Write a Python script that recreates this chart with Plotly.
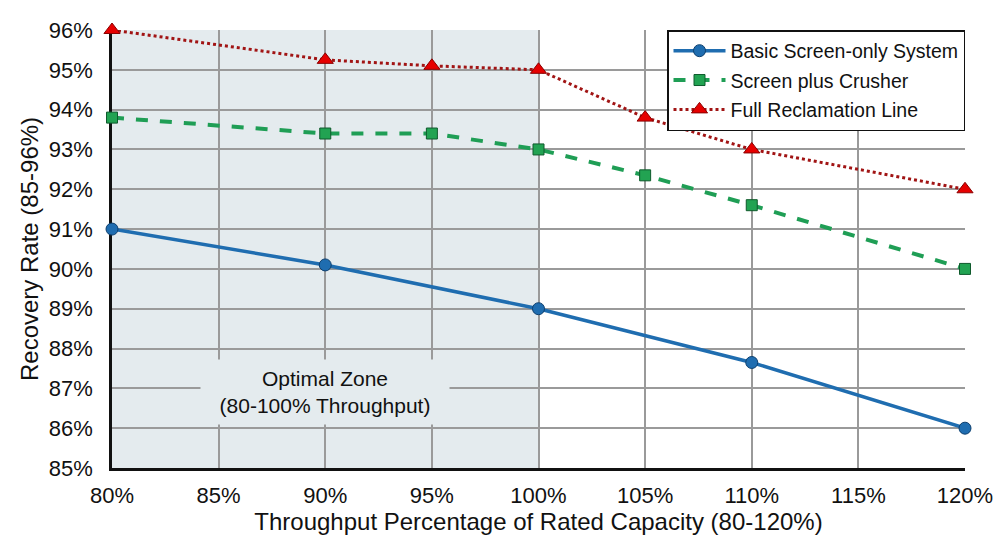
import plotly.graph_objects as go

x_basic = [80, 90, 100, 110, 120]
y_basic = [91.0, 90.1, 89.0, 87.65, 86.0]

x_crusher = [80, 90, 95, 100, 105, 110, 120]
y_crusher = [93.8, 93.4, 93.4, 93.0, 92.35, 91.6, 90.0]

x_full = [80, 90, 95, 100, 105, 110, 120]
y_full = [96.0, 95.25, 95.1, 95.0, 93.8, 93.0, 92.0]

x_ticks = [80, 85, 90, 95, 100, 105, 110, 115, 120]
y_ticks = list(range(85, 97))

zone_start, zone_end = 80, 100
shade = "#e4ebee"
FONT = "Liberation Sans, Arial"

fig = go.Figure()

fig.add_trace(go.Scatter(
    x=x_basic, y=y_basic, mode="lines+markers", name="Basic Screen-only System",
    legendgroup="a",
    line=dict(color="#1f6db0", width=3.5),
    marker=dict(symbol="circle", size=12, color="#1f6db0", line=dict(color="#0d3f6e", width=1)),
    cliponaxis=False,
))
fig.add_trace(go.Scatter(
    x=x_crusher, y=y_crusher, mode="lines+markers", name="Screen plus Crusher",
    legendgroup="b",
    line=dict(color="#1f9e55", width=4, dash="dash"),
    marker=dict(symbol="square", size=11, color="#22a352", line=dict(color="#0f5a2c", width=1)),
    cliponaxis=False,
))
fig.add_trace(go.Scatter(
    x=x_full, y=y_full, mode="lines+markers", name="Full Reclamation Line",
    legendgroup="c",
    line=dict(color="#a11414", width=3, dash="dot"),
    marker=dict(symbol="triangle-up", size=14, color="#e60000", line=dict(color="#8a0000", width=1)),
    cliponaxis=False,
))

fig.add_shape(type="rect", xref="x", yref="y", x0=zone_start, x1=zone_end, y0=85, y1=96,
              fillcolor=shade, line=dict(width=0), layer="below")

fig.add_annotation(
    x=90, y=86.9, xref="x", yref="y",
    text="Optimal Zone<br>(80-100% Throughput)",
    showarrow=False, font=dict(family=FONT, size=21, color="#111111"),
    bgcolor=shade, borderpad=2, width=244, height=60,
)

fig.update_layout(
    width=1000, height=545,
    margin=dict(l=112, r=35, t=30, b=77, autoexpand=False),
    paper_bgcolor="white", plot_bgcolor="white",
    font=dict(family=FONT, color="#111111"),
    showlegend=True,
    legend=dict(
        x=1, y=1, xanchor="right", yanchor="top",
        bgcolor="white", bordercolor="#111111", borderwidth=1.5,
        font=dict(size=19.5), tracegroupgap=1, itemwidth=52,
    ),
    xaxis=dict(
        range=[80, 120], tickvals=x_ticks, ticktext=[f"{v}%" for v in x_ticks],
        showgrid=True, gridcolor="#9a9a9a", gridwidth=1.5,
        showline=True, linecolor="#111111", linewidth=2.5,
        ticks="outside", ticklen=6, tickcolor="rgba(0,0,0,0)",
        tickfont=dict(size=22), zeroline=False, automargin=False,
        title=dict(text="Throughput Percentage of Rated Capacity (80-120%)", font=dict(size=24), standoff=4),
        layer="below traces",
    ),
    yaxis=dict(
        range=[85, 96], tickvals=y_ticks, ticktext=[f"{v}%" for v in y_ticks],
        showgrid=True, gridcolor="#9a9a9a", gridwidth=1.5,
        showline=True, linecolor="#111111", linewidth=2.5,
        ticks="outside", ticklen=12, tickcolor="rgba(0,0,0,0)",
        tickfont=dict(size=22), zeroline=False, automargin=False,
        title=dict(text="Recovery Rate (85-96%)", font=dict(size=24), standoff=4),
        layer="below traces",
    ),
)

fig.write_html("out.html")
